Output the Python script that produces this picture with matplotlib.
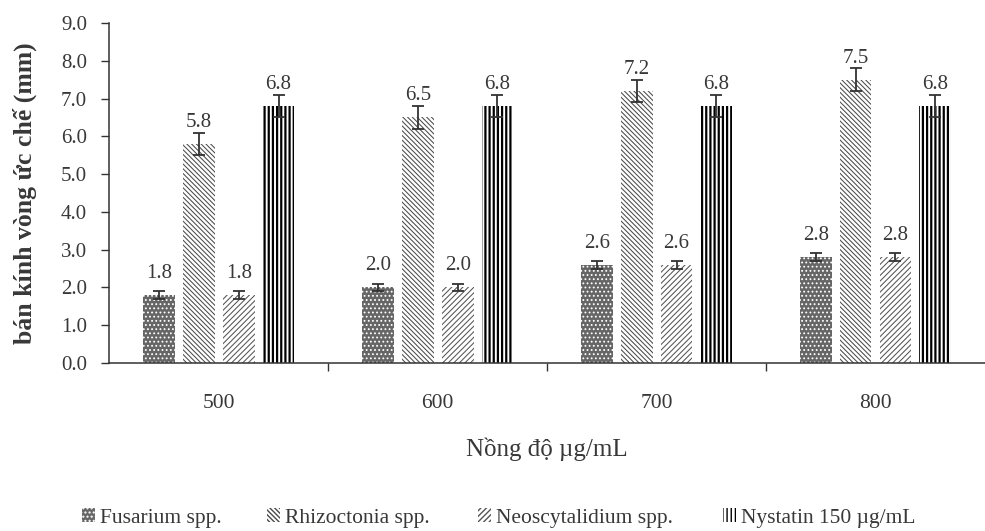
import matplotlib
matplotlib.use("Agg")
import matplotlib.pyplot as plt
import numpy as np

plt.rcParams['font.family'] = ['Liberation Serif', 'DejaVu Serif']

groups = ["500", "600", "700", "800"]
series = ["Fusarium spp.", "Rhizoctonia spp.", "Neoscytalidium spp.", "Nystatin 150 µg/mL"]
fusarium = [1.8, 2.0, 2.6, 2.8]
rhizoctonia = [5.8, 6.5, 7.2, 7.5]
neoscytalidium = [1.8, 2.0, 2.6, 2.8]
nystatin = [6.8, 6.8, 6.8, 6.8]
err_fusarium = [0.1, 0.1, 0.1, 0.1]
err_rhizoctonia = [0.3, 0.3, 0.3, 0.3]
err_neoscytalidium = [0.1, 0.1, 0.1, 0.1]
err_nystatin = [0.3, 0.3, 0.3, 0.3]
y_ticks = [0.0, 1.0, 2.0, 3.0, 4.0, 5.0, 6.0, 7.0, 8.0, 9.0]

values = [fusarium, rhizoctonia, neoscytalidium, nystatin]
errors = [err_fusarium, err_rhizoctonia, err_neoscytalidium, err_nystatin]
styles = [
    dict(facecolor='#666666', edgecolor='white', hatch='....', hlw=0.8),
    dict(facecolor='white', edgecolor='#4a4a4a', hatch='\\' * 7, hlw=0.75),
    dict(facecolor='white', edgecolor='#555555', hatch='/' * 6, hlw=0.75),
    dict(facecolor='white', edgecolor='black', hatch='||||', hlw=1.6),
]

W, H = 985, 531
fig = plt.figure(figsize=(W / 100, H / 100), dpi=100)
ax = fig.add_axes([0.111, 0.3164, 0.889, 0.6403])

x = np.arange(len(groups)) + 0.5
step = 0.182
width = 0.145
txtc = '#383838'
handles = []
for i, (vals, errs, st) in enumerate(zip(values, errors, styles)):
    pos = x + (i - 1.5) * step
    with plt.rc_context({'hatch.linewidth': st['hlw']}):
        bars = ax.bar(pos, vals, width, facecolor=st['facecolor'], edgecolor=st['edgecolor'],
                      hatch=st['hatch'], linewidth=0, label=series[i])
        for b in bars:
            if hasattr(b, 'set_hatch_linewidth'):
                b.set_hatch_linewidth(st['hlw'])
    handles.append(bars)
    ax.errorbar(pos, vals, yerr=errs, fmt='none', ecolor='#333333', elinewidth=1.3,
                capsize=4, capthick=1.3)
    for p, v in zip(pos, vals):
        ax.text(p, v + 0.45, f"{v:.1f}", ha='center', va='baseline', fontsize=15, color=txtc)

ax.set_xlim(0, 4)
ax.set_ylim(0, 9)
ax.set_yticks(y_ticks)
ax.set_yticklabels([f"{t:.1f}" for t in y_ticks], fontsize=15, color=txtc)
ax.set_xticks(x)
ax.set_xticklabels(groups, fontsize=15.5, color=txtc)
ax.set_xticks([1, 2, 3], minor=True)
ax.tick_params(axis='x', which='major', length=0, pad=22)
ax.tick_params(axis='x', which='minor', length=6, width=1, direction='out', color='#333333')
ax.tick_params(axis='y', length=6, width=1, direction='out', color='#333333', pad=10)
for s in ['top', 'right']:
    ax.spines[s].set_visible(False)
for s in ['left', 'bottom']:
    ax.spines[s].set_color('#333333')
    ax.spines[s].set_linewidth(1.1)

ax.set_ylabel("bán kính vòng ức chế (mm)", fontsize=18.5, fontweight='bold', color=txtc, labelpad=17)
ax.set_xlabel("Nồng độ µg/mL", fontsize=18, color=txtc, labelpad=18)

legend_left_px = [82, 267, 478, 723]
for h, lab, lx in zip(handles, series, legend_left_px):
    fig.legend([h], [lab], loc='center left', bbox_to_anchor=(lx / W, 1 - 518 / H),
               frameon=False, fontsize=15.5, handlelength=0.6, handleheight=0.6,
               handletextpad=0.25, borderpad=0, borderaxespad=0, labelcolor=txtc)

fig.savefig("out.png", dpi=100)
